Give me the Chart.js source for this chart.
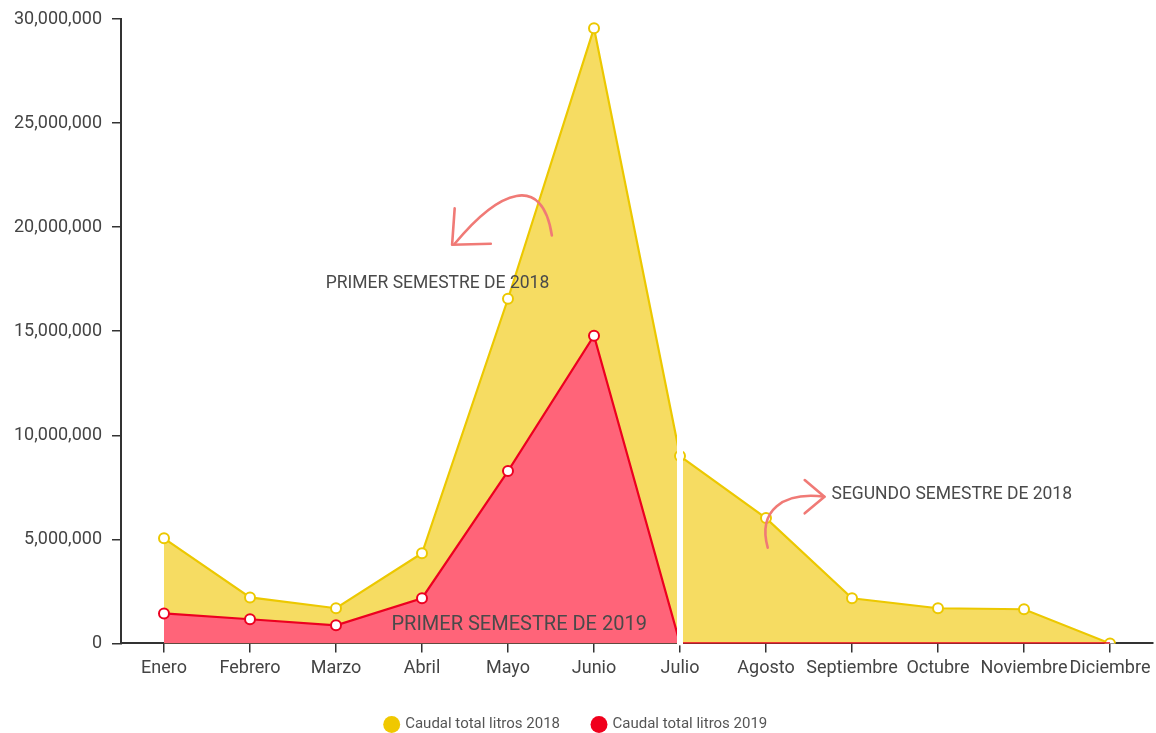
<!DOCTYPE html>
<html>
<head>
<meta charset="utf-8">
<script src="https://cdn.jsdelivr.net/npm/chart.js@4.4.0/dist/chart.umd.min.js"></script>
<style>
html,body{margin:0;padding:0;background:#fff;}
#wrap{width:1156px;height:733px;position:relative;}
</style>
</head>
<body>
<div id="wrap"><canvas id="c" width="1156" height="733"></canvas></div>
<script>
const categories = ["Enero","Febrero","Marzo","Abril","Mayo","Junio","Julio","Agosto","Septiembre","Octubre","Noviembre","Diciembre"];
const caudal2018 = [5050000, 2210000, 1690000, 4330000, 16560000, 29560000, 9000000, 6020000, 2170000, 1690000, 1640000, 0];
const caudal2019 = [1440000, 1160000, 870000, 2170000, 8280000, 14780000, 0, 0, 0, 0, 0, 0];
const points2019 = [1, 1, 1, 1, 1, 1, 0, 0, 0, 0, 0, 0];
const yTicks = [0, 5000000, 10000000, 15000000, 20000000, 25000000, 30000000];
const seriesNames = ["Caudal total litros 2018", "Caudal total litros 2019"];
const annotations = [
  {text: "PRIMER SEMESTRE DE 2018", cat: 3.18, value: 17280000, size: 17.5},
  {text: "SEGUNDO SEMESTRE DE 2018", cat: 9.16, value: 7130000, size: 17.5},
  {text: "PRIMER SEMESTRE DE 2019", cat: 4.13, value: 870000, size: 20}
];

const FONT = "Roboto";
const textCol = "#4a4a4a";

const annotPlugin = {
  id: "annot",
  afterDatasetsDraw(chart) {
    const ctx = chart.ctx, xs = chart.scales.x, ys = chart.scales.y;
    const step = xs.getPixelForValue(1) - xs.getPixelForValue(0);
    const px = c => xs.getPixelForValue(0) + c * step;
    const jx = xs.getPixelForValue(6);
    ctx.save();
    ctx.fillStyle = "#ffffff";
    ctx.fillRect(jx - 3, ys.getPixelForValue(10350000), 6, ys.getPixelForValue(0) - ys.getPixelForValue(10350000) + 2);
    ctx.restore();
    ctx.save();
    ctx.textBaseline = "middle";
    ctx.textAlign = "center";
    annotations.forEach(a => {
      ctx.font = a.size + "px " + FONT;
      ctx.fillStyle = textCol;
      ctx.fillText(a.text, px(a.cat), ys.getPixelForValue(a.value));
    });
    ctx.restore();
    const yv = v => ys.getPixelForValue(v);
    ctx.save();
    ctx.strokeStyle = "#f07a76";
    ctx.lineWidth = 2.6;
    ctx.lineCap = "round";
    ctx.lineJoin = "round";
    ctx.beginPath();
    ctx.moveTo(px(4.51), yv(19600000));
    ctx.bezierCurveTo(px(4.4), yv(22600000), px(3.9), yv(21800000), px(3.38), yv(19200000));
    ctx.stroke();
    ctx.beginPath();
    ctx.moveTo(px(3.38), yv(20900000));
    ctx.lineTo(px(3.35), yv(19150000));
    ctx.lineTo(px(3.8), yv(19200000));
    ctx.stroke();
    ctx.beginPath();
    ctx.moveTo(px(7.02), yv(4600000));
    ctx.bezierCurveTo(px(6.9), yv(6400000), px(7.2), yv(7300000), px(7.68), yv(7050000));
    ctx.stroke();
    ctx.beginPath();
    ctx.moveTo(px(7.45), yv(7850000));
    ctx.lineTo(px(7.68), yv(7050000));
    ctx.lineTo(px(7.45), yv(6250000));
    ctx.stroke();
    ctx.restore();
  }
};

const ctx = document.getElementById("c").getContext("2d");
new Chart(ctx, {
  type: "line",
  data: {
    labels: categories,
    datasets: [
      {
        label: seriesNames[0],
        data: caudal2018,
        borderColor: "#ecc800",
        backgroundColor: "#f6dc62",
        pointBackgroundColor: "#ffffff",
        pointBorderColor: "#ecc800",
        pointRadius: 5,
        pointBorderWidth: 2,
        borderWidth: 2.2,
        fill: "origin",
        tension: 0,
        order: 2
      },
      {
        label: seriesNames[1],
        data: caudal2019,
        borderColor: "#ec0020",
        backgroundColor: "#ff6479",
        pointBackgroundColor: "#ffffff",
        pointBorderColor: "#ec0020",
        pointRadius: points2019.map(p => p ? 5 : 0),
        pointBorderWidth: 2,
        borderWidth: 2.2,
        fill: "origin",
        tension: 0,
        order: 1
      }
    ]
  },
  options: {
    responsive: false,
    animation: false,
    layout: {autoPadding: false, padding: {left: 0, right: 3, top: 10, bottom: -9}},
    plugins: {
      tooltip: {enabled: false},
      legend: {
        position: "bottom",
        labels: {
          usePointStyle: true,
          pointStyle: "circle",
          boxWidth: 12,
          boxHeight: 12,
          padding: 33,
          color: "#555",
          font: {family: FONT, size: 15},
          generateLabels(chart) {
            return chart.data.datasets.map((d, i) => ({
              text: d.label,
              fillStyle: i === 0 ? "#f0c800" : "#f0001c",
              strokeStyle: i === 0 ? "#f0c800" : "#f0001c",
              lineWidth: 0,
              pointStyle: "circle",
              hidden: false,
              datasetIndex: i,
              fontColor: "#555"
            }));
          }
        }
      }
    },
    scales: {
      x: {
        offset: true,
        grid: {display: true, drawOnChartArea: false, drawTicks: true, tickLength: 9, color: "#333", lineWidth: 1.5, offset: false},
        border: {display: true, color: "#333", width: 2},
        ticks: {color: "#444", font: {family: FONT, size: 18}, padding: 5, maxRotation: 0, autoSkip: false}
      },
      y: {
        min: 0,
        max: 30000000,
        afterBuildTicks(scale) { scale.ticks = yTicks.map(v => ({value: v})); },
        afterFit(scale) { scale.width = 121; },
        grid: {display: true, drawOnChartArea: false, drawTicks: true, tickLength: 9, color: "#333", lineWidth: 1.5},
        border: {display: true, color: "#333", width: 2},
        ticks: {color: "#444", font: {family: FONT, size: 18, lineHeight: 1}, padding: 10,
          callback: v => v.toLocaleString("en-US")}
      }
    }
  },
  plugins: [annotPlugin]
});
</script>
</body>
</html>
